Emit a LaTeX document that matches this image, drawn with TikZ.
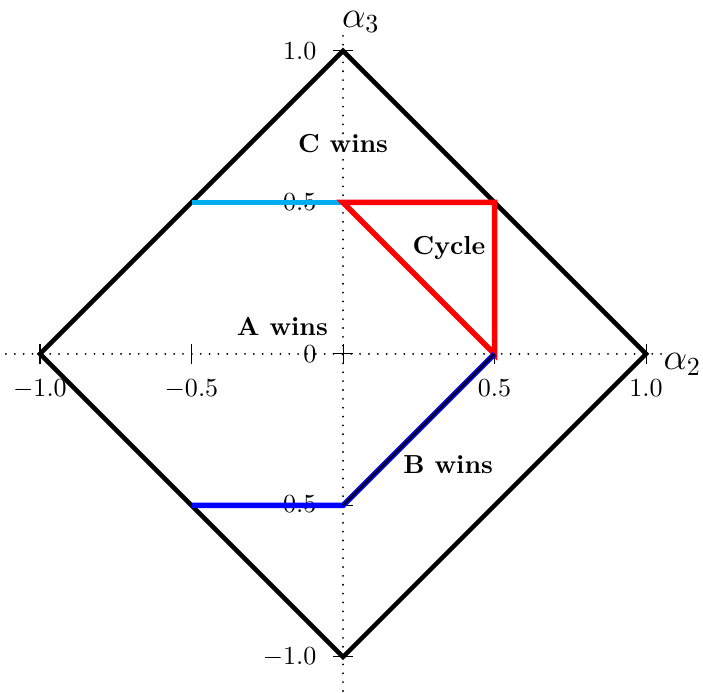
\documentclass[tikz,border=0pt]{standalone}
\usepackage{amsmath}
\usepackage{amssymb}
\usepackage[dvipsnames]{xcolor}
\usepackage{tikz}

\tikzset{
  region/.style={line width=2.1pt},
  frame/.style={line width=1.75pt, black},
  axisline/.style={line width=0.8pt, line cap=round, dash pattern=on 0pt off 3.4pt},
  tickbar/.style={line width=0.4pt},
  ticklabel/.style={inner sep=0pt},
  winlabel/.style={font=\bfseries, inner sep=1pt}
}

\begin{document}
\begin{tikzpicture}[x=4.09cm,y=4.09cm]
        \useasboundingbox (-1.132,-1.116) rectangle (1.188,1.168);
        % corners
        \coordinate (O) at (0,0);
        \coordinate (E) at (1,0);
        \coordinate (N) at (0,1);
        \coordinate (W) at (-1,0);
        \coordinate (S) at (0,-1);
        \coordinate (cl) at (-0.5,0.5);
        \coordinate (cm) at (0,0.5);
        \coordinate (cr) at (0.5,0.5);
        \coordinate (bx) at (0.5,0);
        \coordinate (bl) at (-0.5,-0.5);
        \coordinate (bm) at (0,-0.5);
        \coordinate (xl) at (-1.2,0);
        \coordinate (xr) at (1.05,0);
        \coordinate (yb) at (0,-1.2);
        \coordinate (yt) at (0,1.065);

        % Axes
        \draw [axisline] (xl) -- (xr);
        \draw [axisline] (yb) -- (yt);
        \node (a2) [anchor=base west, inner sep=0pt] at (1.056,-0.053) {\Large $\alpha_{2}$};
        \node (a3) [anchor=base west, inner sep=0pt] at (-0.005,1.078) {\Large $\alpha_{3}$};

        % Ticks on the alpha2 axis
        \foreach \x/\t in {-1/{-1.0}, -0.5/{-0.5}, 0.5/{0.5}, 1/{1.0}} {
          \draw [tickbar] (\x,-0.033) -- (\x,0.033);
          \node (xt\x) [ticklabel, anchor=north] at (\x,-0.083) {$\t$};
        }
        \draw [tickbar] (0,-0.033) -- (0,0.033);
        % Ticks on the alpha3 axis
        \foreach \y/\t in {-1/{-1.0}, -0.5/{-0.5}, 0/{0}, 0.5/{0.5}, 1/{1.0}} {
          \draw [tickbar] (-0.033,\y) -- (0.033,\y);
          \node (yt\y) [ticklabel, anchor=east] at (-0.086,\y) {$\t$};
        }

        % Diamond
        \draw [frame, line join=miter] (E) -- (N) -- (W) -- (S) -- cycle;

        % Regions
        \draw [region, cyan] (cl) -- (cm);
        \draw [region, red, line join=miter] (cm) -- (cr) -- (bx) -- cycle;
        \draw [region, blue] (bl) -- (bm) -- (bx);
        \draw [line width=0.8pt, black] (bm) -- (bx);

        % Text Node
        \node (cwin) [winlabel] at (0,0.693) {C wins};
        % Text Node
        \node (cyc) [winlabel] at (0.350,0.350) {Cycle};
        % Text Node
        \node (awin) [winlabel] at (-0.2,0.092) {A wins};
        % Text Node
        \node (bwin) [winlabel] at (0.347,-0.366) {B wins};
\end{tikzpicture}
\end{document}
